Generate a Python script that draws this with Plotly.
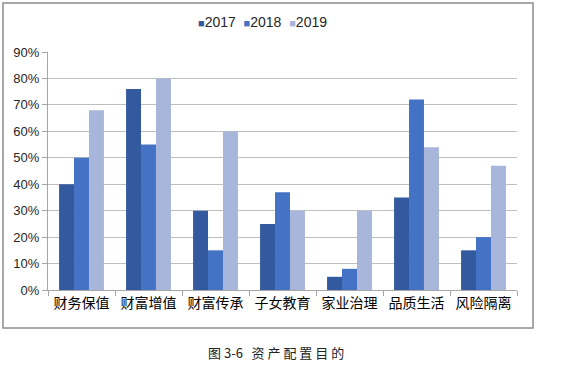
import plotly.graph_objects as go

categories = ["财务保值", "财富增值", "财富传承", "子女教育", "家业治理", "品质生活", "风险隔离"]
v2017 = [40, 76, 30, 25, 5, 35, 15]
v2018 = [50, 55, 15, 37, 8, 72, 20]
v2019 = [68, 80, 60, 30, 30, 54, 47]
series = [("2017", v2017, "#335A9E"), ("2018", v2018, "#4472C4"), ("2019", v2019, "#A7B6DA")]
yticks = [0, 10, 20, 30, 40, 50, 60, 70, 80, 90]
ytick_labels = [f"{t}%" for t in yticks]

fig = go.Figure()
for name, vals, color in series:
    fig.add_trace(go.Bar(x=categories, y=vals, name=name, marker_color=color,
                         marker_line_width=0, showlegend=False))

W, H = 576, 376
L, R, T, B = 48, 517, 52, 290
pw, ph = R - L, B - T
def px(x): return (x - L) / pw
def py(y): return (B - y) / ph

legend_text = "  ".join(
    f"<span style='color:{c};font-size:11px'>■</span>{n}" for n, _, c in series)

fig.update_layout(
    width=W, height=H,
    margin=dict(l=L, r=W - R, t=T, b=H - B),
    paper_bgcolor="white", plot_bgcolor="white",
    barmode="group", bargap=0.33, bargroupgap=0,
    font=dict(family="Liberation Sans, Noto Sans CJK SC", size=12, color="#262626"),
    xaxis=dict(showline=True, linecolor="#A6A6A6", ticks="outside", tickson="boundaries",
               ticklen=5, tickcolor="#A6A6A6", tickangle=0, automargin=False,
               tickfont=dict(family="Noto Sans CJK SC", size=14, color="#000000"),
               showgrid=False),
    yaxis=dict(range=[0, 90], tickvals=yticks, ticktext=ytick_labels, automargin=False,
               showline=True, linecolor="#A6A6A6", ticks="outside", ticklen=5,
               tickcolor="#A6A6A6", gridcolor="#BFBFBF", gridwidth=1,
               tickfont=dict(size=13, color="#262626"), zeroline=False),
    shapes=[dict(type="rect", xref="paper", yref="paper",
                 x0=px(3), x1=px(533), y0=py(328), y1=py(3),
                 line=dict(color="#8C8C8C", width=1.5), fillcolor="rgba(0,0,0,0)", layer="below")],
    annotations=[
        dict(text=legend_text, xref="paper", yref="paper",
             x=px(262), y=py(22), xanchor="center", yanchor="middle", showarrow=False,
             font=dict(family="Liberation Sans", size=14, color="#262626")),
        dict(text="图 3-6   资 产 配 置 目 的", xref="paper", yref="paper",
             x=px(276), y=py(352), xanchor="center", yanchor="middle",
             showarrow=False,
             font=dict(family="Noto Sans CJK SC", size=13, color="#222222")),
    ],
)

fig.write_html("out.html", config={"displayModeBar": False},
               post_script="document.body.style.margin='0';document.body.style.overflow='hidden';")
